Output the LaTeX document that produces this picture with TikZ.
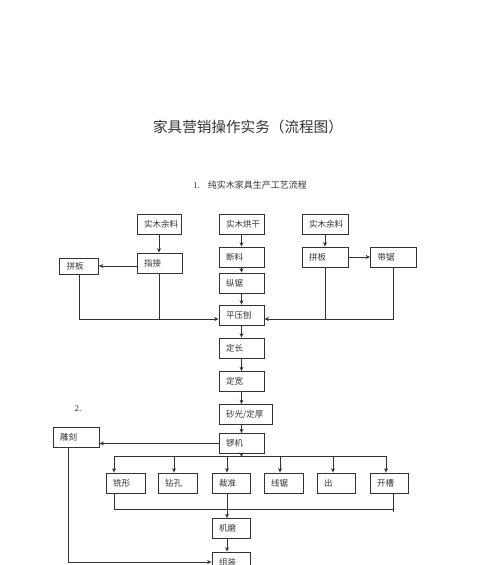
\documentclass[tikz,border=0pt]{standalone}
\usepackage{fontspec}
\setmainfont{Liberation Serif}
\newfontfamily\zhfont{Noto Sans CJK SC}
\usepackage{tikz}
\usetikzlibrary{arrows.meta, calc}
\tikzstyle{arrow} = [->,>={Stealth[length=4.5pt,width=4pt]}]
\tikzstyle{box} = [draw, rectangle, minimum height=20pt, inner xsep=7pt, inner ysep=0pt, align=left, font=\zhfont\fontsize{8.5}{10}\selectfont]

\begin{document}
\begin{tikzpicture}[x=1pt, y=-1pt, line width=0.8pt, color=black!80]
  \useasboundingbox (0,0) rectangle (500,565);
  \clip (0,0) rectangle (500,565);
  \node[font=\zhfont\fontsize{14.6}{16}\selectfont] (title) at (248,127) {家具营销操作实务（流程图）};
  \node[font=\fontsize{9}{11}\selectfont] (sub) at (250,185) {1.\hspace{8pt}{\zhfont 纯实木家具生产工艺流程}};
  \node[font=\fontsize{9}{11}\selectfont] (two) at (78,409) {2.};

  \node[box, text width=30pt] (yla) at (159,224) {实木余料};
  \node[box, text width=31pt] (hg) at (241.5,224) {实木烘干};
  \node[box, text width=32pt] (ylb) at (325,224) {实木余料};
  \node[box, text width=25pt, minimum height=16pt] (pba) at (79,266) {拼板};
  \node[box, text width=31pt] (zj) at (159.5,263) {指接};
  \node[box, text width=31pt] (dl) at (241.5,257) {断料};
  \node[box, text width=31pt] (zju) at (241.5,283) {纵锯};
  \node[box, text width=31pt] (pyb) at (241.5,315) {平压刨};
  \node[box, text width=32pt] (pbb) at (325,257) {拼板};
  \node[box, text width=32pt] (dj) at (393.5,257) {带锯};
  \node[box, text width=31pt] (dc) at (241.5,348) {定长};
  \node[box, text width=31pt] (dk) at (241.5,381.5) {定宽};
  \node[box, text width=39pt] (sg) at (245.5,414.5) {砂光/定厚};
  \node[box, text width=31pt] (lj) at (241.5,443.5) {锣机};
  \node[box, text width=32pt] (dkk) at (76,437) {雕刻};
  \node[box, text width=25pt] (xx) at (125.5,483) {铣形};
  \node[box, text width=25pt] (zk) at (177.5,483) {钻孔};
  \node[box, text width=24pt] (cz) at (231,483) {裁准};
  \node[box, text width=25pt] (xj) at (283.5,483) {线锯};
  \node[box, text width=24pt] (chu) at (336,483) {出};
  \node[box, text width=24pt] (kc) at (389,483) {开槽};
  \node[box, text width=24pt] (jm) at (231,528.5) {机磨};
  \node[box, text width=24pt] (zz) at (231,562) {组装};

  \coordinate (pl) at ($(pyb.west)+(0,4)$);
  \coordinate (pr) at ($(pyb.east)+(0,4)$);
  \draw[arrow] (yla.south) -- (yla.south |- zj.north);
  \draw[arrow] (zj.west |- pba.east) -- (pba.east);
  \draw[arrow] (pba.south) |- (pl);
  \draw (zj.south) -- (zj.south |- pl);
  \draw[arrow] (hg.south) -- (dl.north);
  \draw[arrow] (dl.south) -- (zju.north);
  \draw[arrow] (zju.south) -- (pyb.north);
  \draw[arrow] (ylb.south) -- (pbb.north);
  \draw[arrow] (pbb.east) -- (dj.west);
  \draw[arrow] (dj.south) |- (pr);
  \draw (pbb.south) -- (pbb.south |- pr);

  \draw[arrow] (pyb.south) -- (dc.north);
  \draw[arrow] (dc.south) -- (dk.north);
  \draw[arrow] (dk.south) -- (dk.south |- sg.north);
  \draw[arrow] (lj.north |- sg.south) -- (lj.north);
  \draw[arrow] (lj.west) -- (lj.west -| dkk.east);

  \coordinate (fm) at (241.5,457);
  \coordinate (fa) at (114,456);
  \coordinate (fb) at (386,456);
  \draw[arrow] (lj.south) -- (fm);
  \draw (fa) -- (fb);
  \draw[arrow] (fa) -- (fa |- xx.north);
  \draw[arrow] ([xshift=-3.5pt]zk.north |- fa) -- ([xshift=-3.5pt]zk.north);
  \draw[arrow] ([xshift=-4pt]cz.north |- fa) -- ([xshift=-4pt]cz.north);
  \draw[arrow] ([xshift=-3.5pt]xj.north |- fa) -- ([xshift=-3.5pt]xj.north);
  \draw[arrow] ([xshift=-3pt]chu.north |- fa) -- ([xshift=-3pt]chu.north);
  \draw[arrow] (fb) -- (fb |- kc.north);

  \coordinate (ga) at (114,509);
  \coordinate (gb) at (393,509);
  \draw (fa |- xx.south) -- (ga) -- (gb);
  \draw (gb |- kc.south) -- ($(gb)+(0,3)$);
  \draw[arrow] ([xshift=-4pt]cz.south) -- ([xshift=-4pt]jm.north);
  \draw[arrow] ([xshift=-4pt]jm.south) -- ([xshift=-4pt]zz.north);
  \draw[arrow] ([xshift=-8pt]dkk.south) |- (zz.west);
\end{tikzpicture}
\end{document}
